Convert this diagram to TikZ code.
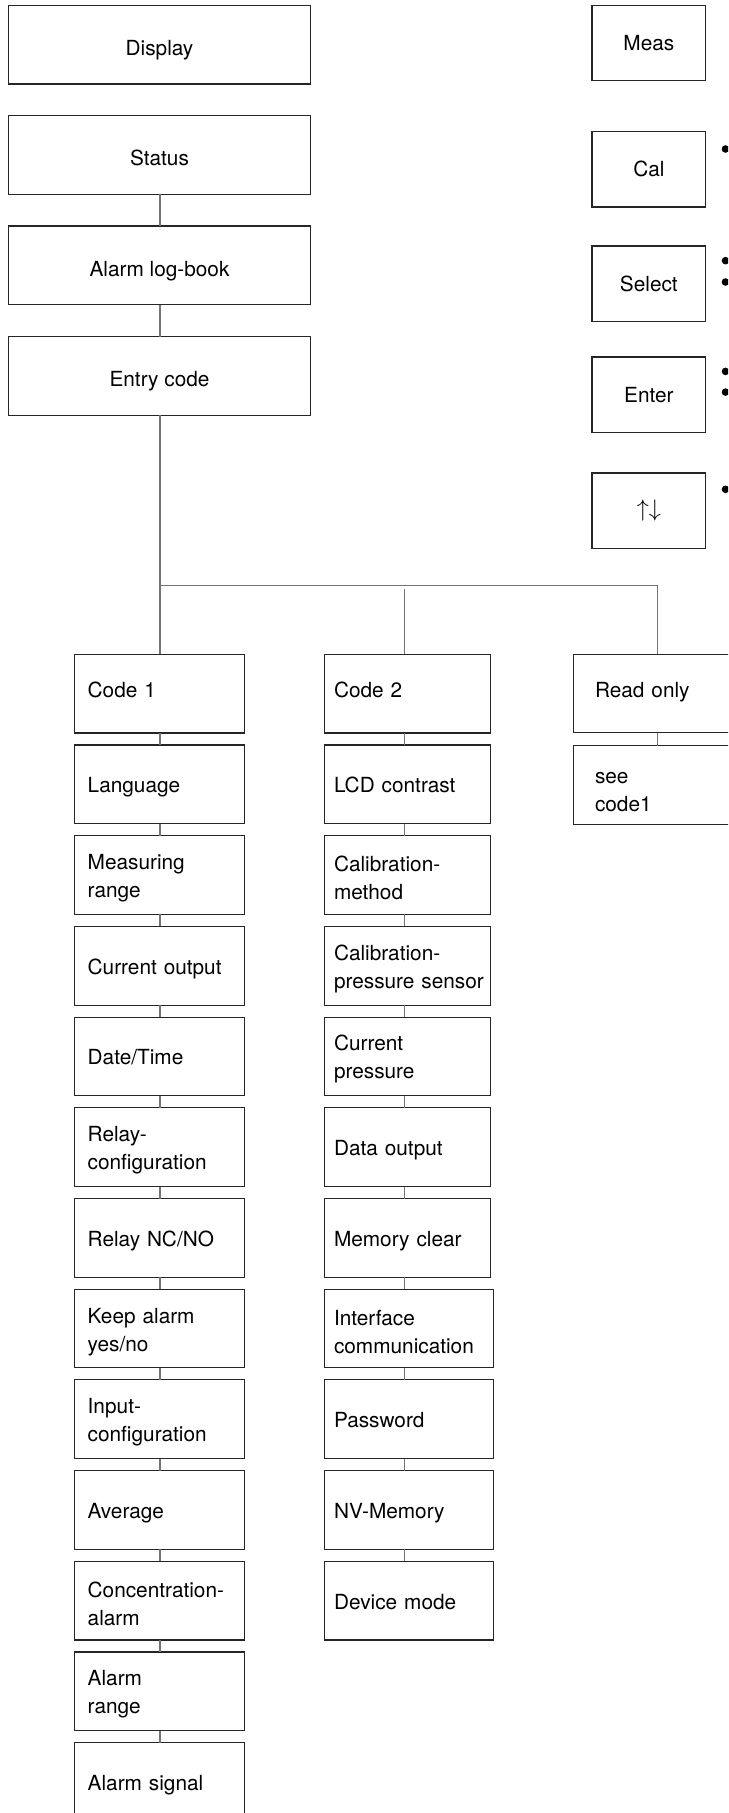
\documentclass[tikz,border=0pt]{standalone}
\usepackage{fontspec}
\setmainfont{TeX Gyre Heros}
\newcommand\mystrut{\rule[-2.3pt]{0pt}{13.1pt}}
\newcommand\topstrut{\rule[-2.3pt]{0pt}{15.3pt}}
\begin{document}
\begin{tikzpicture}[x=0.5pt,y=-0.5pt,
  every node/.style={font=\fontsize{10.4pt}{14pt}\selectfont},
  box/.style={draw=black!85,line width=0.55pt,inner sep=0pt,outer sep=0pt},
  cbox/.style={box,align=center},
  lbox/.style={box,align=left},
  colA/.style={lbox,text width=71.6pt,inner xsep=6.7pt,minimum height=39.35pt},
  colB/.style={lbox,text width=73.3pt,inner xsep=4.85pt,minimum height=39.35pt},
  colBw/.style={lbox,text width=74.8pt,inner xsep=4.85pt,minimum height=39.35pt},
  topbox/.style={cbox,minimum width=151.2pt,minimum height=39.35pt},
  keybox/.style={cbox,minimum width=56.85pt,minimum height=37.75pt},
  conn/.style={draw=black!55,line width=0.75pt},
  dot/.style={fill=black}]
\useasboundingbox (0,0) rectangle (728,1813);
\clip (0,0) rectangle (728,1813);
\fill[white] (0,0) rectangle (728,1813);

% top-left column
\node[topbox] (disp)  at (159.5,44.65) {\topstrut Display};
\node[topbox] (stat)  at (159.5,155) {\topstrut Status};
\node[topbox] (alog)  at (159.5,265.35) {\topstrut Alarm log-book};
\node[topbox] (entry) at (159.5,376) {\topstrut Entry code};

% key boxes on the right
\node[keybox] (meas) at (648.85,43) {Meas};
\node[keybox] (cal)  at (648.85,169.25) {Cal};
\node[keybox] (sel)  at (648.85,283.75) {Select};
\node[keybox] (ent)  at (648.85,394.75) {Enter};
\node[keybox] (arr)  at (648.85,510.75) {\fontsize{11.5pt}{14pt}\selectfont$\uparrow\downarrow$};

% bullets beside the keys
\foreach \yy in {149,260.7,282,371.4,392.1,489.3}
  \fill[dot] (725.5,\yy) circle[radius=1.9pt];

% column 1
\foreach \t [count=\i from 0] in {{\raisebox{3.8pt}{Code 1}},{\mystrut Language},{\mystrut Measuring\\range},{\mystrut Current output},{\mystrut Date/Time},{\mystrut Relay-\\configuration},{\mystrut Relay NC/NO},{\mystrut Keep alarm\\yes/no},{\mystrut Input-\\configuration},{\mystrut Average},{\mystrut Concentration-\\alarm},{\mystrut Alarm\\range},{\mystrut Alarm signal}}
  \node[colA] (a\i) at (159.3,693.65+90.7*\i) {\t};

% column 2
\foreach \t [count=\i from 0] in {{\raisebox{3.8pt}{Code 2}},{\mystrut LCD contrast},{\mystrut Calibration-\\method},{\mystrut Calibration-\\\mbox{pressure sensor}},{\mystrut Current\\pressure},{\mystrut Data output},{\mystrut Memory clear}}
  \node[colB] (b\i) at (407.3,693.65+90.7*\i) {\t};
\foreach \t [count=\i from 7] in {{\mystrut Interface\\communication},{\mystrut Password},{\mystrut NV-Memory},{\mystrut Device mode}}
  \node[colBw] (b\i) at (408.8,693.65+90.7*\i) {\t};

% read only column
\node[lbox,text width=71.65pt,inner xsep=10.85pt,minimum height=39.2pt] (ro) at (666.65,693.5) {\raisebox{3.8pt}{Read only}};
\node[lbox,text width=71.65pt,inner xsep=10.85pt,minimum height=39.3pt] (see) at (666.65,785) {\rule{0pt}{13pt}see\\code1};

% connectors
\coordinate (xA) at (159.8,0);
\coordinate (xB) at (404.7,0);
\coordinate (xC) at (657.3,0);
\coordinate (hj) at (159.8,585.7);
\coordinate (mj) at (404.7,589.3);
\draw[conn] (stat.south -| xA) -- (alog.north -| xA);
\draw[conn] (alog.south -| xA) -- (entry.north -| xA);
\draw[conn] (entry.south -| xA) -- (a0.north -| xA);
\draw[conn] (hj) -- (hj -| xC) -- (ro.north -| xC);
\draw[conn] (mj) -- (b0.north -| xB);
\draw[conn] (ro.south -| xC) -- (see.north -| xC);
\foreach \i [remember=\i as \j (initially 0)] in {1,...,12}
  \draw[conn] (a\j.south -| xA) -- (a\i.north -| xA);
\foreach \i [remember=\i as \j (initially 0)] in {1,...,10}
  \draw[conn] (b\j.south -| xB) -- (b\i.north -| xB);
\end{tikzpicture}
\end{document}
